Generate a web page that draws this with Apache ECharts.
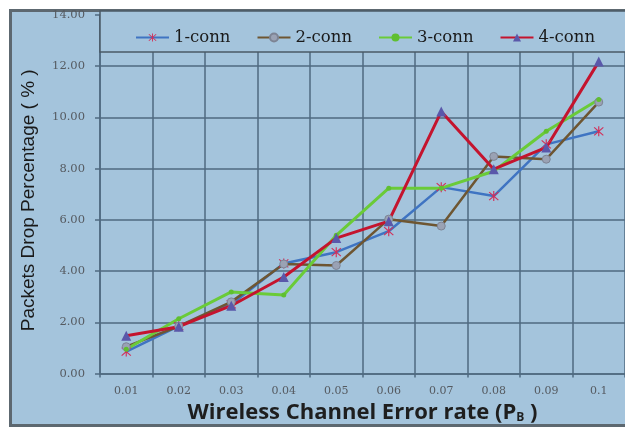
<!DOCTYPE html>
<html>
<head>
<meta charset="utf-8">
<script src="https://cdn.jsdelivr.net/npm/echarts@6/dist/echarts.min.js"></script>
<style>
html,body{margin:0;padding:0;background:#ffffff;}
#chart{width:625px;height:429px;}
</style>
</head>
<body>
<div id="chart"></div>
<script>
var categories = ['0.01','0.02','0.03','0.04','0.05','0.06','0.07','0.08','0.09','0.1'];
var seriesNames = ['1-conn','2-conn','3-conn','4-conn'];
var conn1 = [0.86, 1.85, 2.70, 4.30, 4.74, 5.56, 7.28, 6.93, 8.95, 9.46];
var conn2 = [1.05, 1.85, 2.80, 4.28, 4.22, 6.03, 5.76, 8.48, 8.37, 10.60];
var conn3 = [0.95, 2.14, 3.19, 3.07, 5.40, 7.24, 7.24, 7.90, 9.46, 10.70];
var conn4 = [1.48, 1.83, 2.65, 3.77, 5.29, 5.95, 10.23, 7.98, 8.83, 12.18];
var yTicks = {min: 0, max: 14, interval: 2};

var BG = '#a4c4dc';
var GRIDC = '#4f6a80';
var STAR = 'path://M-0.1,-1L0.1,-1L0.1,1L-0.1,1Z M-0.73,-0.87L0.87,0.73L0.73,0.87L-0.87,-0.73Z M-0.87,0.73L0.73,-0.87L0.87,-0.73L-0.73,0.87Z';

var chart = echarts.init(document.getElementById('chart'), null, {renderer: 'canvas'});
chart.setOption({
  backgroundColor: '#ffffff',
  animation: false,
  graphic: [
    {type: 'rect', z: -10, shape: {x: 10.5, y: 10.5, width: 900, height: 415},
     style: {fill: BG, stroke: '#5d6870', lineWidth: 3}},
    {type: 'rect', z: 5, shape: {x: 100, y: 11, width: 800, height: 41},
     style: {fill: BG, stroke: '#4a5a66', lineWidth: 1.5}}
  ],
  legend: {
    z: 20,
    left: 130, top: 24,
    itemWidth: 33, itemHeight: 10, itemGap: 26,
    textStyle: {fontFamily: 'DejaVu Serif', fontSize: 16.5, color: '#1a1a1a'},
    data: seriesNames
  },
  grid: {left: 100, right: -8, top: 15, bottom: 54, containLabel: false},
  xAxis: {
    type: 'category',
    data: categories,
    boundaryGap: true,
    axisLine: {show: true, lineStyle: {color: GRIDC, width: 1.5}},
    axisTick: {show: true, length: 4, lineStyle: {color: GRIDC, width: 1.5}},
    splitLine: {show: true, lineStyle: {color: GRIDC, width: 1.5}},
    axisLabel: {margin: 12, fontFamily: 'DejaVu Serif', fontSize: 11, color: '#555a60'},
    name: '{t|Wireless Channel Error rate (P}{s|B}{t| )}',
    nameLocation: 'middle',
    nameGap: 26,
    nameTextStyle: {
      rich: {
        t: {fontFamily: 'Open Sans', fontWeight: 'bold', fontSize: 22, color: '#1e1e1e'},
        s: {fontFamily: 'Open Sans', fontWeight: 'bold', fontSize: 12, color: '#1e1e1e', padding: [11, 0, 0, 0]}
      }
    }
  },
  yAxis: {
    type: 'value',
    min: yTicks.min, max: yTicks.max, interval: yTicks.interval,
    axisLine: {show: true, lineStyle: {color: GRIDC, width: 1.5}},
    axisTick: {show: true, length: 5, lineStyle: {color: GRIDC, width: 1.5}},
    splitLine: {show: true, lineStyle: {color: GRIDC, width: 1.5}},
    axisLabel: {margin: 15, fontFamily: 'DejaVu Serif', fontSize: 11.5, color: '#555a60',
      formatter: function (v) { return v.toFixed(2); }},
    name: 'Packets Drop Percentage ( % )',
    nameLocation: 'middle',
    nameRotate: 90,
    nameGap: 62,
    nameTextStyle: {fontFamily: 'Liberation Sans', fontSize: 19, color: '#1a1a1a', padding: [0, 12, 0, 0]}
  },
  series: [
    {name: seriesNames[0], type: 'line', data: conn1, symbol: STAR, symbolSize: 10,
     lineStyle: {color: '#3f74c2', width: 2.5},
     itemStyle: {color: '#d2305a', borderWidth: 0}},
    {name: seriesNames[1], type: 'line', data: conn2, symbol: 'circle', symbolSize: 8,
     lineStyle: {color: '#6e5632', width: 2.5},
     itemStyle: {color: '#9aa2b4', borderColor: '#7d8494', borderWidth: 1}},
    {name: seriesNames[2], type: 'line', data: conn3, symbol: 'circle', symbolSize: 5,
     lineStyle: {color: '#6acb38', width: 3},
     itemStyle: {color: '#5fbf30', borderWidth: 0}},
    {name: seriesNames[3], type: 'line', data: conn4, symbol: 'triangle', symbolSize: 10,
     lineStyle: {color: '#c4142e', width: 3},
     itemStyle: {color: '#5a58aa', borderWidth: 0}}
  ]
});
</script>
</body>
</html>
